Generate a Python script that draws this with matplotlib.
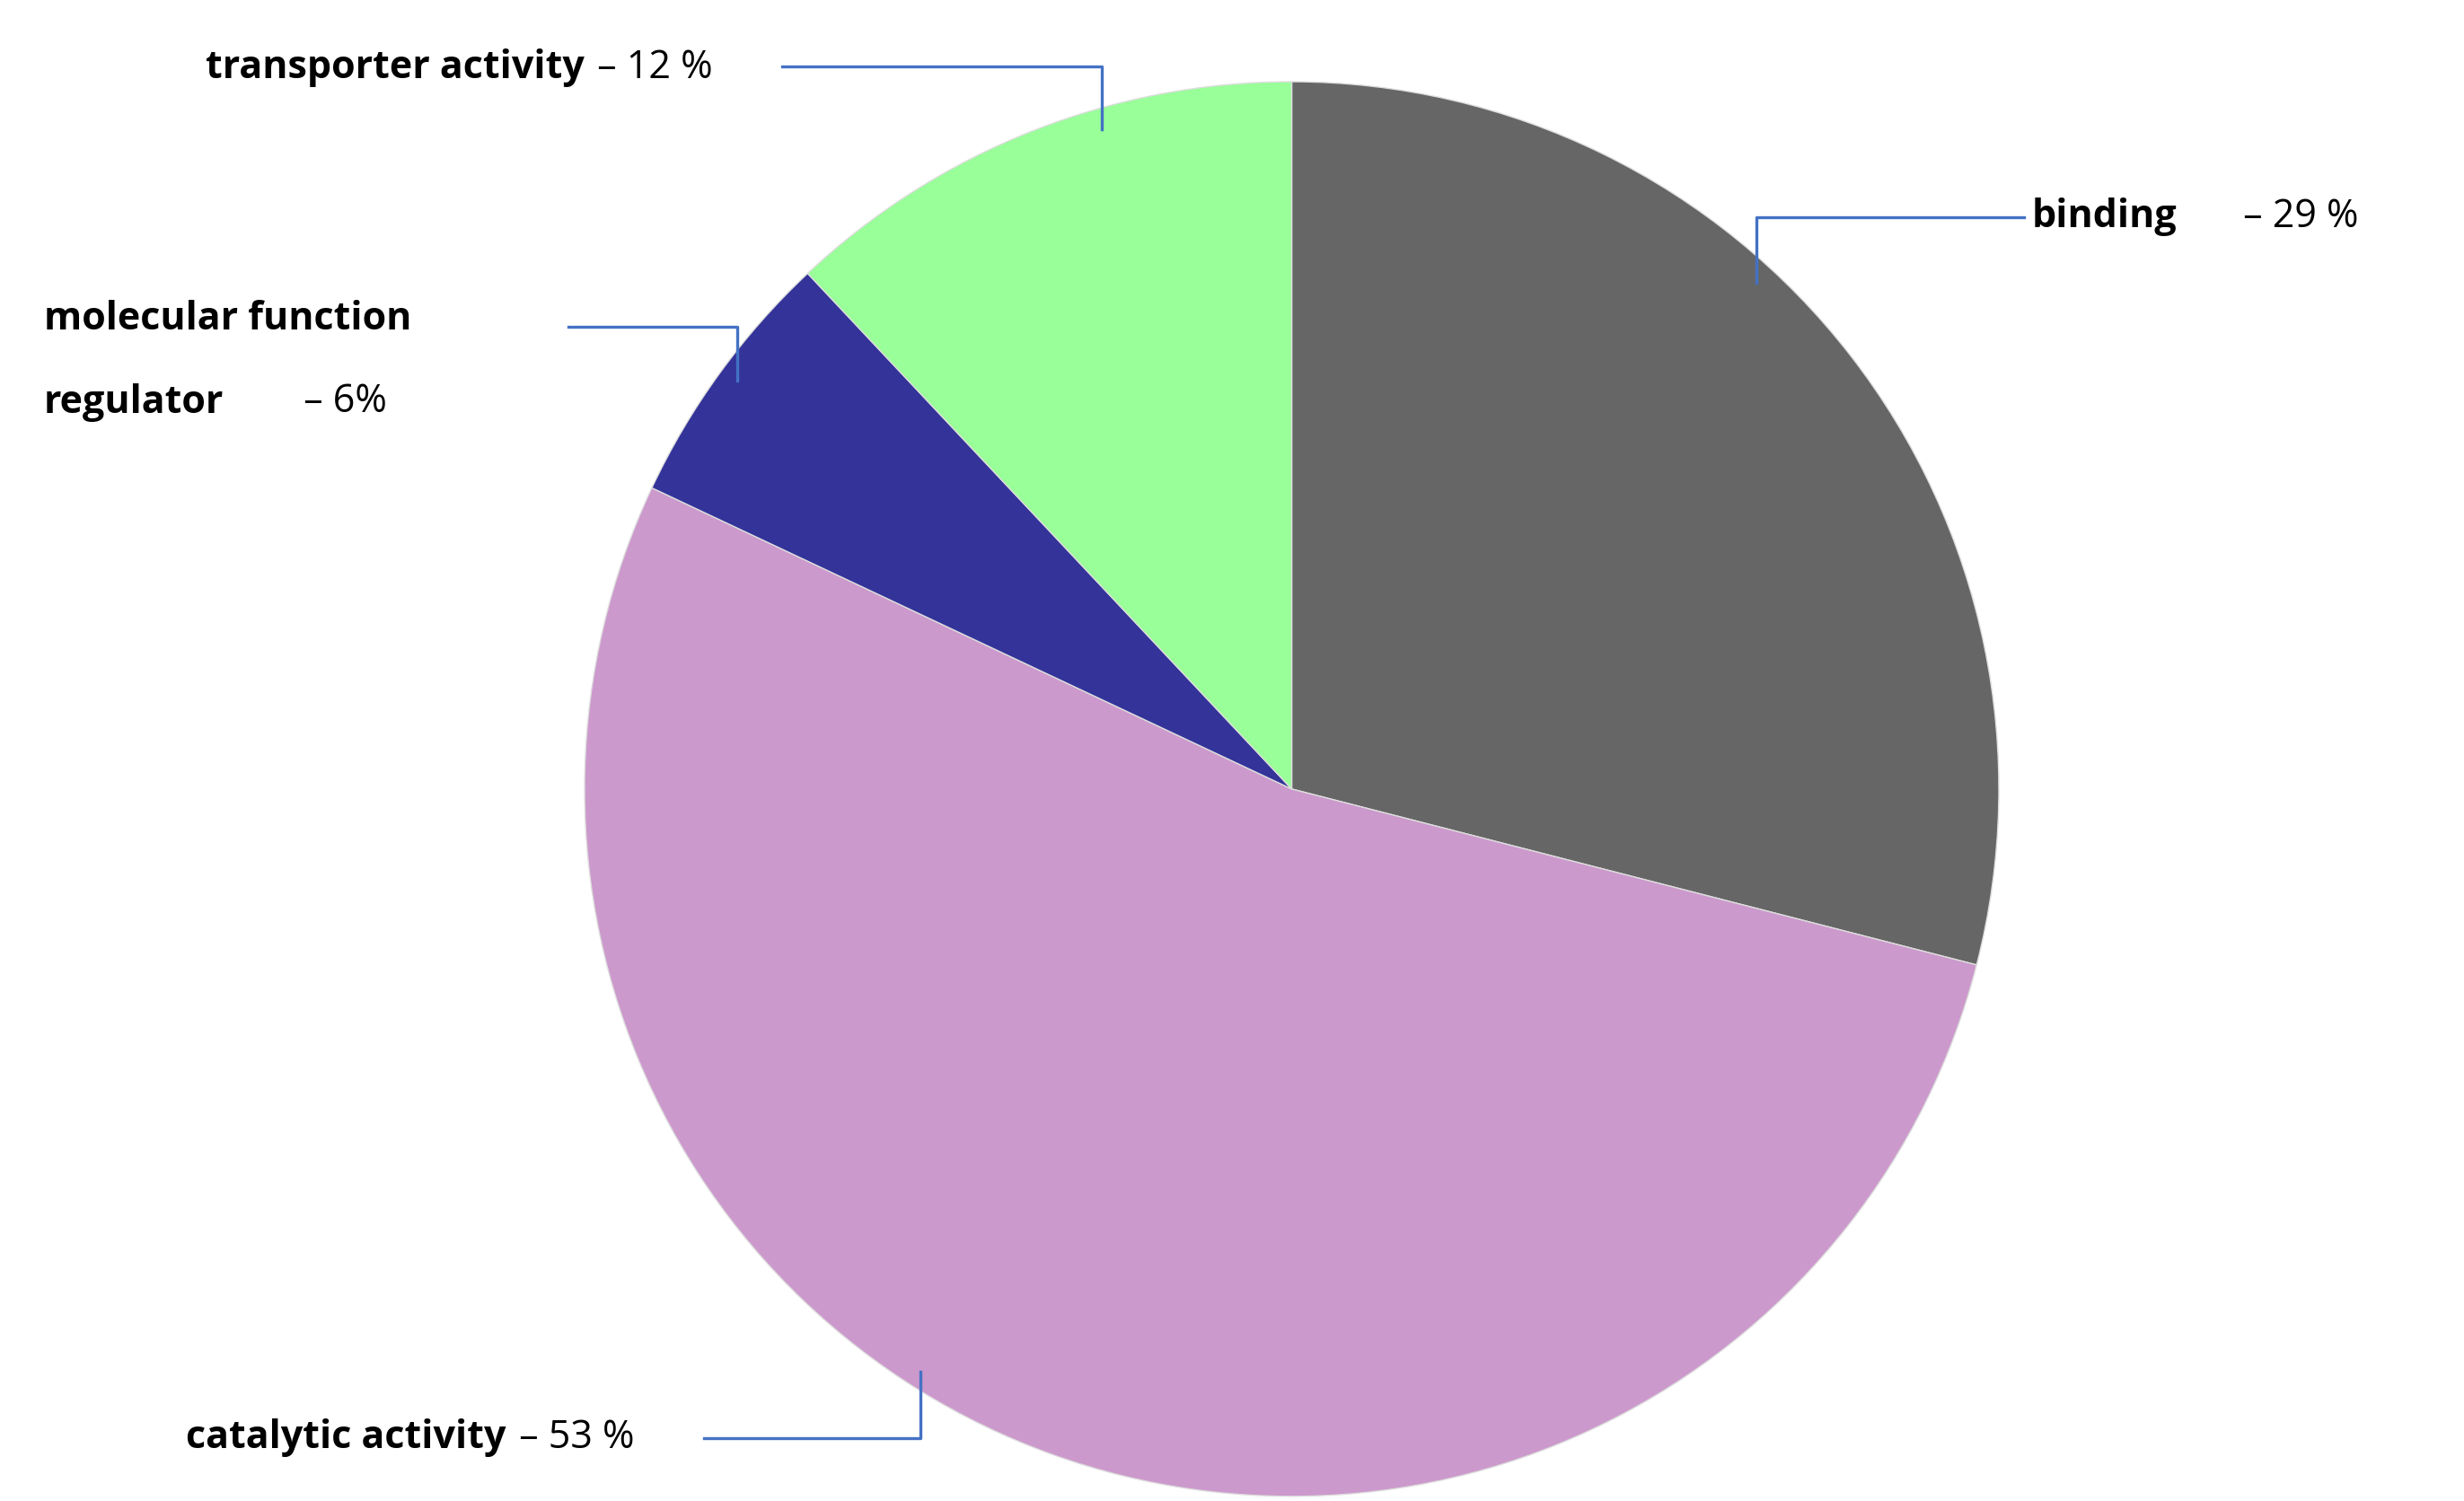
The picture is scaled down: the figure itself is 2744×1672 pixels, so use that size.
from matplotlib import pyplot as plt

# data
labels = ["binding", "catalytic activity", "molecular function\nregulator", "transporter activity"]
values = [29, 53, 6, 12]
pct_text = [" – 29 %", " – 53 %", " – 6%", " – 12 %"]
colors = ["#666666", "#CC99CC", "#333399", "#99FF99"]

W, H = 1568, 955  # layout units (reference pixels / 1.75)

fig = plt.figure(figsize=(13.72, 8.36), dpi=200)
ax = fig.add_axes([0, 0, 1, 1])
ax.pie(values, colors=colors, startangle=90, counterclock=False,
       center=(822, H - 502), radius=450, frame=True,
       wedgeprops=dict(linewidth=0.5, edgecolor="#dddddd"))
ax.set_xlim(0, W)
ax.set_ylim(0, H)
ax.set_aspect("auto")
ax.axis("off")

font = "Open Sans"
fs = 15.5
line_c = "#4472C4"


def y(v):
    return H - v


def leader(pts):
    ax.plot([p[0] for p in pts], [y(p[1]) for p in pts], color=line_c, lw=1.2)


# transporter activity
ax.text(372, y(43), labels[3], ha="right", va="center", fontsize=fs, fontweight="bold", family=font)
ax.text(374, y(43), pct_text[3], ha="left", va="center", fontsize=fs, family=font)
leader([(498, 42), (701, 42), (701, 82)])

# binding
ax.text(1293, y(138), labels[0], ha="left", va="center", fontsize=fs, fontweight="bold", family=font)
ax.text(1421, y(138), pct_text[0], ha="left", va="center", fontsize=fs, family=font)
leader([(1118, 180), (1118, 138), (1288, 138)])

# molecular function regulator
first, second = labels[2].split("\n")
ax.text(28, y(203), first, ha="left", va="center", fontsize=fs, fontweight="bold", family=font)
ax.text(28, y(256), second, ha="left", va="center", fontsize=fs, fontweight="bold", family=font)
ax.text(187, y(256), pct_text[2], ha="left", va="center", fontsize=fs, family=font)
leader([(362, 208), (469, 208), (469, 242)])

# catalytic activity
ax.text(322, y(915), labels[1], ha="right", va="center", fontsize=fs, fontweight="bold", family=font)
ax.text(324, y(915), pct_text[1], ha="left", va="center", fontsize=fs, family=font)
leader([(448, 915), (586, 915), (586, 873)])

fig.savefig("out.png")
